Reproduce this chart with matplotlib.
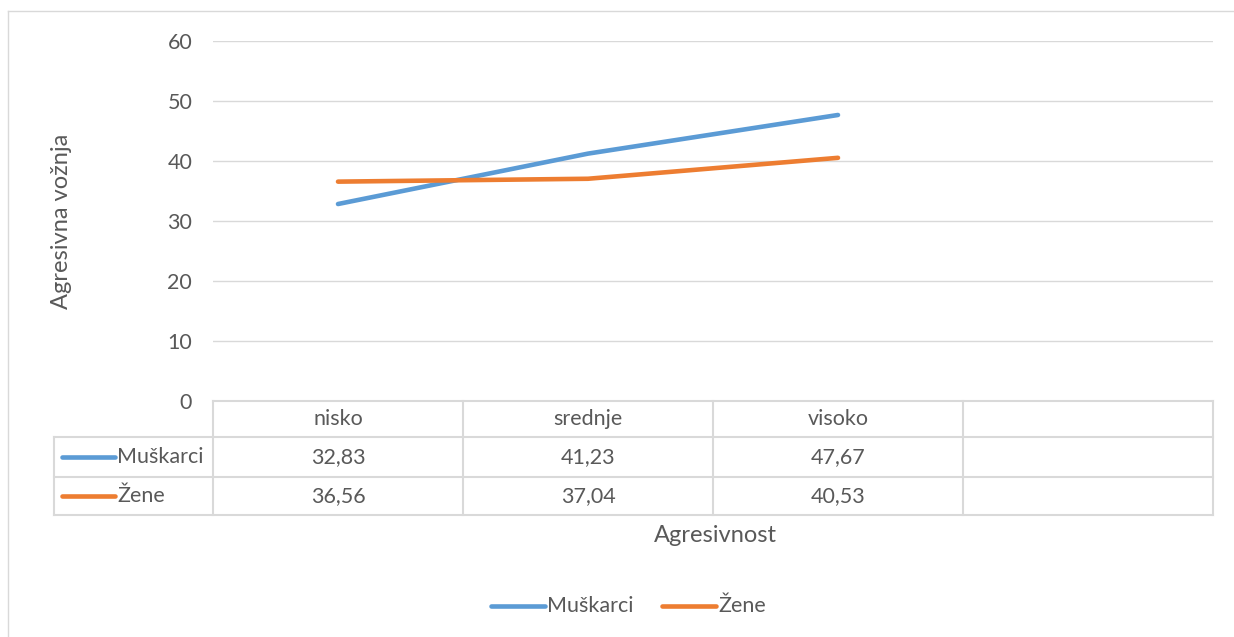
import matplotlib.pyplot as plt
from matplotlib.lines import Line2D
from matplotlib.transforms import blended_transform_factory

categories = ['nisko', 'srednje', 'visoko', '']
muskarci = [32.83, 41.23, 47.67]
zene = [36.56, 37.04, 40.53]
series_names = ['Muškarci', 'Žene']
yticks = [0, 10, 20, 30, 40, 50, 60]

blue = '#5B9BD5'
orange = '#ED7D31'
grid_c = '#D9D9D9'
text_c = '#595959'

plt.rcParams['font.family'] = ['Lato', 'DejaVu Sans']

W, H = 1234, 637
fig = plt.figure(figsize=(W / 100, H / 100), dpi=100)

def fx(px):
    return px / W

def fy(py):
    return 1 - py / H

# chart border (left and top visible)
fig.add_artist(Line2D([fx(8), fx(8)], [fy(11), 0], color=grid_c, lw=1))
fig.add_artist(Line2D([fx(8), 1], [fy(11), fy(11)], color=grid_c, lw=1))

ax = fig.add_axes([fx(213), fy(401), fx(1213) - fx(213), fy(41) - fy(401)])
ax.set_xlim(0, len(categories))
ax.set_ylim(0, 60)
ax.set_yticks(yticks)
ax.set_xticks([])
ax.tick_params(axis='y', length=0, pad=15, labelsize=15.5, labelcolor=text_c)
for s in ax.spines.values():
    s.set_visible(False)
ax.grid(axis='y', color=grid_c, lw=1)
ax.set_axisbelow(True)

xs = [i + 0.5 for i in range(len(muskarci))]
ax.plot(xs, muskarci, color=blue, lw=3.3, solid_capstyle='round', label=series_names[0])
ax.plot(xs, zene, color=orange, lw=3.3, solid_capstyle='round', label=series_names[1])

fig.text(fx(62), fy(221), 'Agresivna vožnja', rotation=90, ha='center', va='center',
         fontsize=17, color=text_c)

# data table
tr = blended_transform_factory(ax.transData, fig.transFigure)
row_tops = [401, 437, 477, 515]
for y in row_tops:
    x0 = 213 if y == 401 else 54
    fig.add_artist(Line2D([fx(x0), fx(1213)], [fy(y), fy(y)], color=grid_c, lw=1.5))
for i in range(len(categories) + 1):
    ax.add_artist(Line2D([i, i], [fy(401), fy(515)], color=grid_c, lw=1.5,
                         transform=tr, clip_on=False))
fig.add_artist(Line2D([fx(54), fx(54)], [fy(437), fy(515)], color=grid_c, lw=1.5))

for i, c in enumerate(categories):
    ax.text(i + 0.5, fy(419), c, transform=tr, ha='center', va='center',
            fontsize=15.5, color=text_c)
for vals, yy in [(muskarci, 457), (zene, 496)]:
    for i, v in enumerate(vals):
        ax.text(i + 0.5, fy(yy), f'{v:.2f}'.replace('.', ','), transform=tr,
                ha='center', va='center', fontsize=15.5, color=text_c)
for name, col, yy in [(series_names[0], blue, 457), (series_names[1], orange, 496)]:
    fig.add_artist(Line2D([fx(62), fx(115)], [fy(yy), fy(yy)], color=col, lw=3.3,
                          solid_capstyle='round'))
    fig.text(fx(117), fy(yy), name, ha='left', va='center', fontsize=15.5, color=text_c)

fig.text(fx(715), fy(536), 'Agresivnost', ha='center', va='center', fontsize=17, color=text_c)

# legend
for name, col, x0 in [(series_names[0], blue, 491), (series_names[1], orange, 662)]:
    fig.add_artist(Line2D([fx(x0), fx(x0 + 54)], [fy(606), fy(606)], color=col, lw=3.3,
                          solid_capstyle='round'))
    fig.text(fx(x0 + 56), fy(606), name, ha='left', va='center', fontsize=15.5, color=text_c)

fig.savefig('out.png', dpi=100)
